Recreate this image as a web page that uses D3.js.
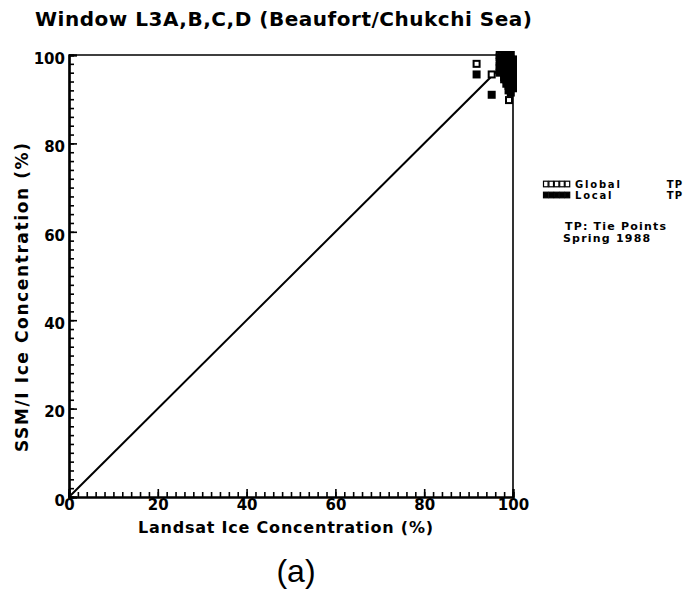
<!DOCTYPE html>
<html>
<head>
<meta charset="utf-8">
<script src="https://cdn.jsdelivr.net/npm/d3@7"></script>
<style>
  body { margin: 0; background: #fff; }
  text { font-family: "DejaVu Sans", sans-serif; font-weight: bold; fill: #000; }
  text.panel { font-family: "Liberation Sans", Arial, sans-serif; font-weight: normal; }
</style>
</head>
<body>
<div id="chart"></div>
<script>
// Data (percent ice concentration)
const globalX = [91.8, 95.2, 99.1, 97.0, 97.5, 98.5, 99.5, 100, 98.0, 99.0, 99.5, 100];
const globalY = [98.0, 95.6, 89.8, 100, 100, 99.0, 98.0, 97.0, 96.0, 95.0, 94.0, 92.5];

const localX = [91.8, 95.2, 97.0, 97.5, 98.0, 98.5, 99.0, 99.5, 100, 97.0, 97.5, 98.0, 98.5, 99.0,
                99.5, 100, 97.0, 97.5, 98.0, 98.5, 99.0, 99.5, 100, 98.5, 99.0, 99.5, 100, 99.0, 99.5, 100,
                97.0, 97.5, 98.0, 99.0, 100, 98.5, 99.0, 100, 97.0, 98.0];
const localY = [95.6, 91.0, 99.5, 99.0, 100, 100, 99.5, 100, 99.0, 97.5, 98.0, 98.0, 97.0, 98.5,
                99.0, 98.0, 96.0, 96.5, 95.0, 95.5, 96.5, 96.0, 95.0, 93.5, 93.0, 94.0, 93.5, 92.0, 91.5, 92.5,
                97.0, 97.5, 96.5, 97.0, 96.5, 94.5, 94.5, 97.5, 98.5, 94.5];

const majorTicks = [0, 20, 40, 60, 80, 100];
const legendLabels = ["Global", "Local"];
const notes = ["TP: Tie Points", "Spring 1988"];

const width = 686, height = 592;

const svg = d3.select("#chart")
    .append("svg")
    .attr("width", width)
    .attr("height", height);

const x = d3.scaleLinear().domain([0, 100]).range([69, 513]);
const y = d3.scaleLinear().domain([0, 100]).range([497, 55]);

// frame (top and right)
svg.append("path")
    .attr("d", `M${x(0)},${y(100)}H${x(100)}V${y(0)}`)
    .attr("fill", "none")
    .attr("stroke", "#000")
    .attr("stroke-width", 1.6);

// minor ticks, every 2 %
const minor = x.ticks(50);

const xMinor = svg.append("g")
    .attr("transform", `translate(0,${y(0)})`)
    .call(d3.axisBottom(x).tickValues(minor).tickSize(-5).tickFormat(""));
const yMinor = svg.append("g")
    .attr("transform", `translate(${x(0)},0)`)
    .call(d3.axisLeft(y).tickValues(minor).tickSize(-5).tickFormat(""));

// major ticks with labels
const xAxis = svg.append("g")
    .attr("transform", `translate(0,${y(0)})`)
    .call(d3.axisBottom(x).tickValues(majorTicks).tickSize(-8).tickPadding(-3).tickFormat(d3.format("d")));
const yAxis = svg.append("g")
    .attr("transform", `translate(${x(0)},0)`)
    .call(d3.axisLeft(y).tickValues(majorTicks).tickSize(-8).tickPadding(4).tickFormat(d3.format("d")));

[xMinor, yMinor, xAxis, yAxis].forEach(g => {
    g.select(".domain").attr("stroke", "#000").attr("stroke-width", 2.2);
    g.selectAll(".tick line").attr("stroke", "#000").attr("stroke-width", 1.6);
});
xAxis.selectAll(".tick text")
    .attr("font-size", 15)
    .attr("dy", "1.05em")
    .attr("font-family", "DejaVu Sans");
yAxis.selectAll(".tick text")
    .attr("font-size", 15)
    .attr("dy", "0.55em")
    .attr("x", -4)
    .attr("font-family", "DejaVu Sans");

// 1:1 line
svg.append("line")
    .attr("x1", x(0)).attr("y1", y(0))
    .attr("x2", x(100)).attr("y2", y(100))
    .attr("stroke", "#000")
    .attr("stroke-width", 2);

// points
const sq = 8;
const globalPts = globalX.map((v, i) => ({ x: v, y: globalY[i] }));
const localPts = localX.map((v, i) => ({ x: v, y: localY[i] }));

svg.append("g").selectAll("rect")
    .data(globalPts)
    .enter().append("rect")
    .attr("x", d => x(d.x) - sq / 2 + 1)
    .attr("y", d => y(d.y) - sq / 2 + 1)
    .attr("width", sq - 2)
    .attr("height", sq - 2)
    .attr("fill", "#fff")
    .attr("stroke", "#000")
    .attr("stroke-width", 2);

svg.append("g").selectAll("rect")
    .data(localPts)
    .enter().append("rect")
    .attr("x", d => x(d.x) - sq / 2)
    .attr("y", d => y(d.y) - sq / 2)
    .attr("width", sq)
    .attr("height", sq)
    .attr("fill", "#000");

// title
svg.append("text")
    .attr("x", 35)
    .attr("y", 26)
    .attr("font-size", 20)
    .attr("textLength", 497)
    .attr("lengthAdjust", "spacing")
    .text("Window L3A,B,C,D (Beaufort/Chukchi Sea)");

// axis titles
svg.append("text")
    .attr("x", 138)
    .attr("y", 533)
    .attr("font-size", 16)
    .attr("textLength", 295)
    .attr("lengthAdjust", "spacing")
    .text("Landsat Ice Concentration (%)");

svg.append("text")
    .attr("transform", "translate(28,452) rotate(-90)")
    .attr("font-size", 17)
    .attr("textLength", 309)
    .attr("lengthAdjust", "spacing")
    .text("SSM/I Ice Concentration (%)");

// legend
const legend = svg.append("g");
legendLabels.forEach((label, i) => {
    const cy = 184 + i * 11;
    const row = legend.append("g");
    row.selectAll("rect")
        .data(d3.range(5))
        .enter().append("rect")
        .attr("x", k => 543.5 + k * 5.4)
        .attr("y", cy - 2.8)
        .attr("width", 4.6)
        .attr("height", 5.6)
        .attr("fill", i === 0 ? "#fff" : "#000")
        .attr("stroke", "#000")
        .attr("stroke-width", 1.2);
    row.append("text")
        .attr("x", 575)
        .attr("y", cy + 4)
        .attr("font-size", 10)
        .attr("letter-spacing", 1.8)
        .text(label);
    row.append("text")
        .attr("x", 683)
        .attr("y", cy + 4)
        .attr("font-size", 10)
        .attr("letter-spacing", 1)
        .attr("text-anchor", "end")
        .text("TP");
});

notes.forEach((t, i) => {
    legend.append("text")
        .attr("x", i === 0 ? 565 : 563)
        .attr("y", 230 + i * 12)
        .attr("font-size", 11)
        .attr("letter-spacing", 1.2)
        .text(t);
});

// panel label
svg.append("text")
    .attr("class", "panel")
    .attr("x", 296)
    .attr("y", 582)
    .attr("text-anchor", "middle")
    .attr("font-size", 32)
    .text("(a)");
</script>
</body>
</html>
